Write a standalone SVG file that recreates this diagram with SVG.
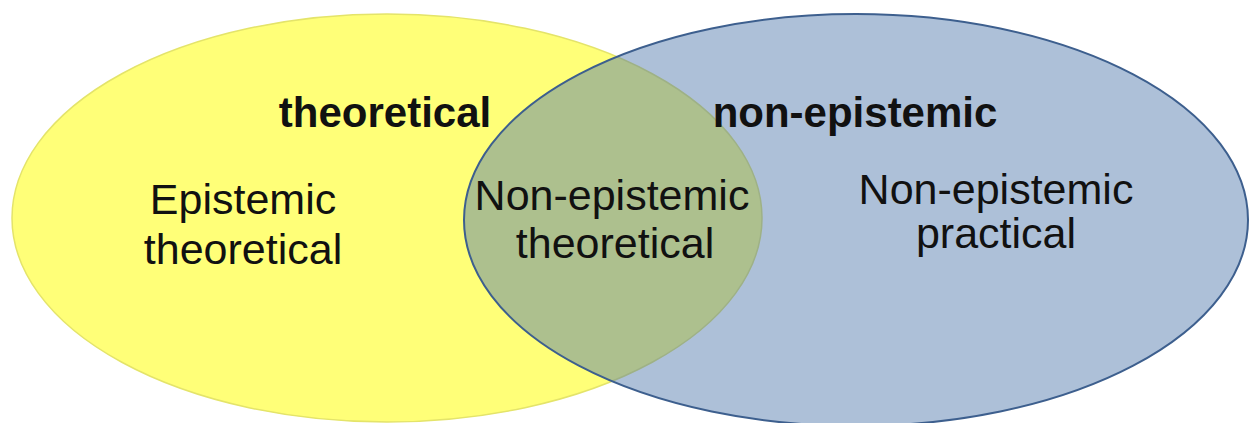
<svg xmlns="http://www.w3.org/2000/svg" width="1250" height="423" viewBox="0 0 1250 423">
<style>
.lbl{font-family:"Liberation Sans",Arial,sans-serif;font-size:43px;fill:#111;text-anchor:middle}
.b{font-weight:bold;font-size:42px}
</style>
<rect width="1250" height="423" fill="#fff"/>
<g id="theoretical">
<ellipse cx="387" cy="218" rx="375" ry="204" fill="#ffff78" stroke="#e4e46a" stroke-width="1.5"/>
</g>
<g id="non-epistemic">
<ellipse cx="856" cy="220" rx="392" ry="206" fill="#4a74a8" fill-opacity="0.45" stroke="#3d5f8e" stroke-width="2"/>
</g>
<g id="labels">
<text class="lbl b" x="385" y="127">theoretical</text>
<text class="lbl b" x="855" y="127">non-epistemic</text>
<text class="lbl" x="243" y="214">Epistemic</text>
<text class="lbl" x="243" y="264">theoretical</text>
<text class="lbl" x="612" y="210">Non-epistemic</text>
<text class="lbl" x="615" y="258">theoretical</text>
<text class="lbl" x="996" y="204">Non-epistemic</text>
<text class="lbl" x="996" y="248">practical</text>
</g>
</svg>
